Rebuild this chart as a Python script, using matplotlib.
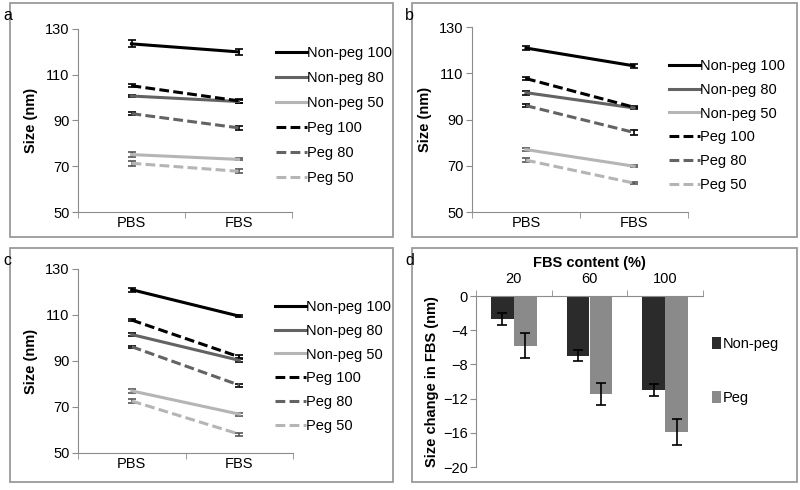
import numpy as np
import matplotlib
matplotlib.use("Agg")
import matplotlib.pyplot as plt
from matplotlib.patches import Rectangle

plt.rcParams['font.family'] = ['Liberation Sans', 'DejaVu Sans']

# line panels: PBS / FBS values
conditions = ['PBS', 'FBS']
series_names = ['Non-peg 100', 'Non-peg 80', 'Non-peg 50', 'Peg 100', 'Peg 80', 'Peg 50']

a_vals = [[123.5, 120.0], [100.7, 98.3], [75.1, 73.0], [105.2, 98.6], [93.0, 86.8], [71.3, 67.8]]
a_errs = [[1.5, 1.2], [0.6, 0.6], [1.0, 0.4], [0.6, 0.8], [0.5, 0.8], [1.0, 0.8]]

b_vals = [[120.9, 113.2], [101.6, 95.0], [77.0, 69.8], [107.7, 95.3], [96.0, 84.4], [72.4, 62.5]]
b_errs = [[0.8, 0.9], [0.8, 0.6], [0.8, 0.4], [0.6, 0.5], [0.5, 1.0], [0.8, 0.5]]

c_vals = [[121.0, 109.5], [101.5, 90.3], [77.0, 66.9], [107.8, 91.8], [96.2, 79.5], [72.6, 58.2]]
c_errs = [[0.8, 0.5], [0.8, 0.8], [0.7, 0.6], [0.5, 0.8], [0.5, 0.6], [0.8, 0.7]]

# bar panel
fbs_content = ['20', '60', '100']
nonpeg_change = [-2.7, -7.0, -11.0]
nonpeg_err = [0.7, 0.65, 0.75]
peg_change = [-5.8, -11.5, -15.9]
peg_err = [1.45, 1.3, 1.55]

line_colors = ['#000000', '#636363', '#b5b5b5', '#000000', '#636363', '#b5b5b5']
line_styles = ['-', '-', '-', '--', '--', '--']
gray = '#8c8c8c'
fs = 10.5

fig = plt.figure(figsize=(8, 4.9), dpi=100)

def fx(px):
    return px / 800

def fy(py):
    return 1 - py / 490

# panel frames and letters
for (x0, y0, x1, y1), letter in zip([(10, 3, 393, 237), (412, 3, 797, 237),
                                     (10, 248, 393, 482), (412, 248, 797, 482)],
                                    ['a', 'b', 'c', 'd']):
    fig.patches.append(Rectangle((fx(x0), fy(y1)), fx(x1 - x0), (y1 - y0) / 490,
                                 transform=fig.transFigure, fill=False,
                                 edgecolor='#9a9a9a', linewidth=1.3))
    fig.text(fx(x0 - 7), fy(y0 + 12), letter, fontsize=11.5, ha='left', va='center')


def line_panel(rect, vals, errs, leg_xy, spacing):
    ax = fig.add_axes(rect)
    x = [0.5, 1.5]
    for name, v, e, c, ls in zip(series_names, vals, errs, line_colors, line_styles):
        ax.errorbar(x, v, yerr=e, color=c, linestyle=ls, linewidth=2.2,
                    dashes=(3.2, 1.4) if ls == '--' else (None, None),
                    ecolor='#000000' if c != '#b5b5b5' else '#555555',
                    elinewidth=1.2, capsize=3, capthick=1.2, label=name)
    ax.set_xlim(0, 2)
    ax.set_ylim(50, 130)
    ax.set_yticks([50, 70, 90, 110, 130])
    ax.set_xticks(x)
    ax.set_xticklabels(conditions)
    ax.set_xticks([0, 1, 2], minor=True)
    ax.tick_params(axis='x', which='major', length=0, pad=3, labelsize=fs)
    ax.tick_params(axis='x', which='minor', length=4, color=gray, direction='out')
    ax.tick_params(axis='y', length=4, color=gray, labelsize=fs, pad=2)
    for s in ['top', 'right']:
        ax.spines[s].set_visible(False)
    for s in ['left', 'bottom']:
        ax.spines[s].set_color(gray)
    ax.set_ylabel('Size (nm)', fontsize=10.5, fontweight='bold', labelpad=5)
    handles, labels = ax.get_legend_handles_labels()
    handles = [h[0] for h in handles]
    ax.legend(handles, labels, loc='upper left', bbox_to_anchor=leg_xy,
              bbox_transform=fig.transFigure, frameon=False, fontsize=fs,
              handlelength=2.1, handletextpad=0.0, labelspacing=spacing,
              borderpad=0, borderaxespad=0)
    return ax


line_panel([fx(78), fy(212), fx(214), 183 / 490], a_vals, a_errs, (fx(276), fy(46)), 0.76)
line_panel([fx(472), fy(212), fx(216), 185 / 490], b_vals, b_errs, (fx(669), fy(59)), 0.67)
line_panel([fx(78), fy(453), fx(215), 184 / 490], c_vals, c_errs, (fx(275), fy(300)), 0.67)

# panel d: bars
axd = fig.add_axes([fx(476), fy(467), fx(227), 171 / 490])
xc = np.arange(len(fbs_content)) + 0.5
w = 0.3
axd.bar(xc - w / 2, nonpeg_change, w, color='#2b2b2b', label='Non-peg')
axd.bar(xc + w / 2, peg_change, w, color='#8a8a8a', label='Peg')
axd.errorbar(xc - w / 2, nonpeg_change, yerr=nonpeg_err, fmt='none', ecolor='black',
             elinewidth=1.2, capsize=3.5, capthick=1.2)
axd.errorbar(xc + w / 2, peg_change, yerr=peg_err, fmt='none', ecolor='black',
             elinewidth=1.2, capsize=3.5, capthick=1.2)
axd.set_xlim(0, 3)
axd.set_ylim(-20, 0)
axd.set_yticks([0, -4, -8, -12, -16, -20])
axd.xaxis.tick_top()
axd.xaxis.set_label_position('top')
axd.set_xticks(xc)
axd.set_xticklabels(fbs_content)
axd.set_xticks([0, 1, 2, 3], minor=True)
axd.tick_params(axis='x', which='major', length=0, pad=7, labelsize=fs)
axd.tick_params(axis='x', which='minor', length=4, color=gray, direction='out')
axd.tick_params(axis='y', length=4, color=gray, labelsize=fs, pad=2)
for s in ['bottom', 'right']:
    axd.spines[s].set_visible(False)
for s in ['left', 'top']:
    axd.spines[s].set_color(gray)
axd.set_xlabel('FBS content (%)', fontsize=10.5, fontweight='bold', labelpad=4)
axd.set_ylabel('Size change in FBS (nm)', fontsize=10.5, fontweight='bold', labelpad=3)
axd.legend(loc='upper left', bbox_to_anchor=(fx(712), fy(337)), bbox_transform=fig.transFigure,
           frameon=False, fontsize=fs, handlelength=0.6, handleheight=0.9,
           handletextpad=0.15, labelspacing=2.75, borderpad=0, borderaxespad=0)

fig.savefig('out.png', dpi=100)
